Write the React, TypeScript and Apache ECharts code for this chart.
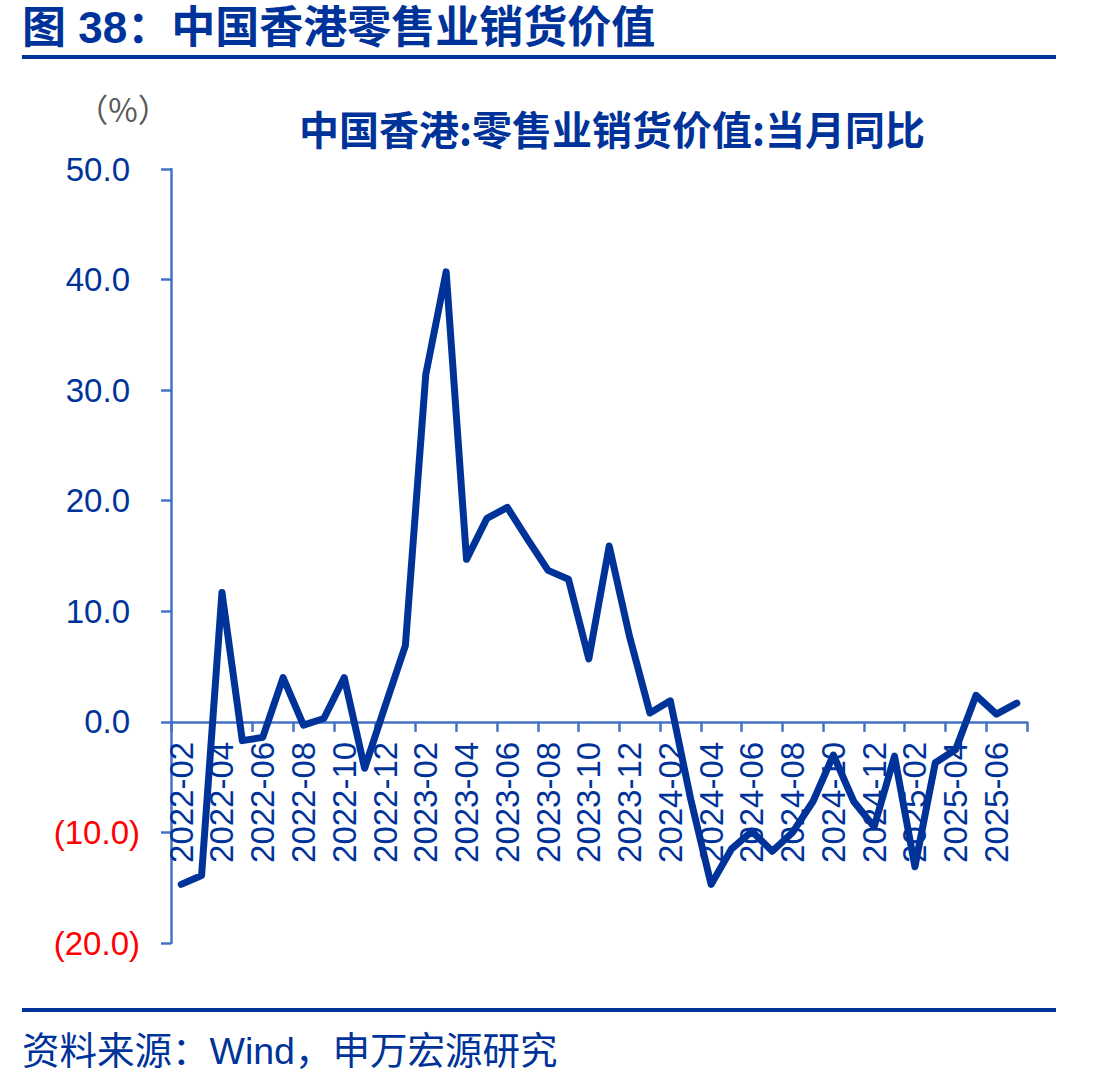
import React, { useEffect, useRef } from "react";
import * as echarts from "echarts";

const categories: string[] = [
  "2022-02", "2022-03", "2022-04", "2022-05", "2022-06", "2022-07", "2022-08", "2022-09", "2022-10", "2022-11", "2022-12",
  "2023-01", "2023-02", "2023-03", "2023-04", "2023-05", "2023-06", "2023-07", "2023-08", "2023-09", "2023-10", "2023-11", "2023-12",
  "2024-01", "2024-02", "2024-03", "2024-04", "2024-05", "2024-06", "2024-07", "2024-08", "2024-09", "2024-10", "2024-11", "2024-12",
  "2025-01", "2025-02", "2025-03", "2025-04", "2025-05", "2025-06", "2025-07",
];

const yoyValues: number[] = [
  -14.7, -13.9, 11.7, -1.7, -1.4, 4.0, -0.3, 0.3, 4.0, -4.2, 1.4,
  6.9, 31.4, 40.7, 14.7, 18.4, 19.4, 16.5, 13.7, 12.9, 5.7, 15.9, 7.7,
  0.8, 1.9, -7.0, -14.7, -11.5, -9.9, -11.7, -10.0, -7.2, -3.0, -7.2, -9.5,
  -3.1, -13.1, -3.7, -2.5, 2.4, 0.7, 1.7,
];

const yMin = -20;
const yMax = 50;
const yStep = 10;

const mainTitle = "图 38：中国香港零售业销货价值";
const chartTitle = "中国香港:零售业销货价值:当月同比";
const unitLabel = "（%）";
const sourceText = "资料来源：Wind，申万宏源研究";

const NAVY = "#003399";
const AXIS = "#4472C4";

const GRID_TOP = 169;
const GRID_BOTTOM = 144;
const CHART_H = 1087;

export default function App() {
  const ref = useRef<HTMLDivElement>(null);
  useEffect(() => {
    if (!ref.current) return;
    const chart = echarts.init(ref.current, undefined, { renderer: "svg" });
    const cjk = "'Noto Sans CJK SC', sans-serif";
    const latin = "'Liberation Sans', Arial, 'Noto Sans CJK SC', sans-serif";
    const plotH = CHART_H - GRID_TOP - GRID_BOTTOM;
    const zeroFromBottom = ((0 - yMin) / (yMax - yMin)) * plotH;
    chart.setOption({
      animation: false,
      backgroundColor: "#ffffff",
      grid: { left: 171, right: 73, top: GRID_TOP, bottom: GRID_BOTTOM, containLabel: false },
      xAxis: {
        type: "category",
        data: categories,
        boundaryGap: true,
        position: "bottom",
        offset: -zeroFromBottom,
        axisLine: { show: true, onZero: false, lineStyle: { color: AXIS, width: 2.5 } },
        axisTick: { show: true, interval: 1, length: 10, lineStyle: { color: AXIS, width: 2.5 } },
        axisLabel: {
          interval: 1,
          rotate: 90,
          margin: 20,
          color: NAVY,
          fontSize: 33,
          fontFamily: latin,
        },
        splitLine: { show: false },
      },
      yAxis: {
        type: "value",
        min: yMin,
        max: yMax,
        interval: yStep,
        axisLine: { show: true, lineStyle: { color: AXIS, width: 2.5 } },
        axisTick: { show: true, length: 10, lineStyle: { color: AXIS, width: 2.5 } },
        splitLine: { show: false },
        axisLabel: {
          margin: 31,
          fontSize: 33,
          fontFamily: latin,
          formatter: (v: number) =>
            v < 0 ? `{neg|(${Math.abs(v).toFixed(1)})}` : `{pos|${v.toFixed(1)}}`,
          rich: {
            pos: { color: NAVY, fontSize: 33, fontFamily: latin, padding: [0, 10, 0, 0] },
            neg: { color: "#FF0000", fontSize: 33, fontFamily: latin },
          },
        },
      },
      series: [
        {
          type: "line",
          data: yoyValues,
          symbol: "none",
          lineStyle: { color: NAVY, width: 7, join: "round", cap: "round" },
          z: 5,
        },
      ],
      graphic: [
        {
          type: "text",
          left: 22,
          top: 5,
          style: {
            text: mainTitle,
            fill: NAVY,
            font: `bold 44px ${latin}`,
          },
        },
        {
          type: "rect",
          shape: { x: 22, y: 55, width: 1034, height: 4 },
          style: { fill: NAVY },
        },
        {
          type: "text",
          x: 612,
          y: 128,
          style: {
            text: chartTitle,
            fill: NAVY,
            font: `bold 40px ${cjk}`,
            align: "center",
            verticalAlign: "middle",
          },
        },
        {
          type: "text",
          x: 123,
          y: 108,
          style: {
            text: unitLabel,
            fill: "#595959",
            font: `32px ${cjk}`,
            align: "center",
            verticalAlign: "middle",
          },
        },
        {
          type: "rect",
          shape: { x: 22, y: 1008, width: 1034, height: 4 },
          style: { fill: NAVY },
        },
        {
          type: "text",
          left: 22,
          top: 1032,
          style: {
            text: sourceText,
            fill: NAVY,
            font: `37.5px ${latin}`,
          },
        },
      ],
    });
    return () => chart.dispose();
  }, []);
  return (
    <div
      ref={ref}
      style={{ position: "absolute", left: 0, top: 0, width: 1100, height: 1087 }}
    />
  );
}
